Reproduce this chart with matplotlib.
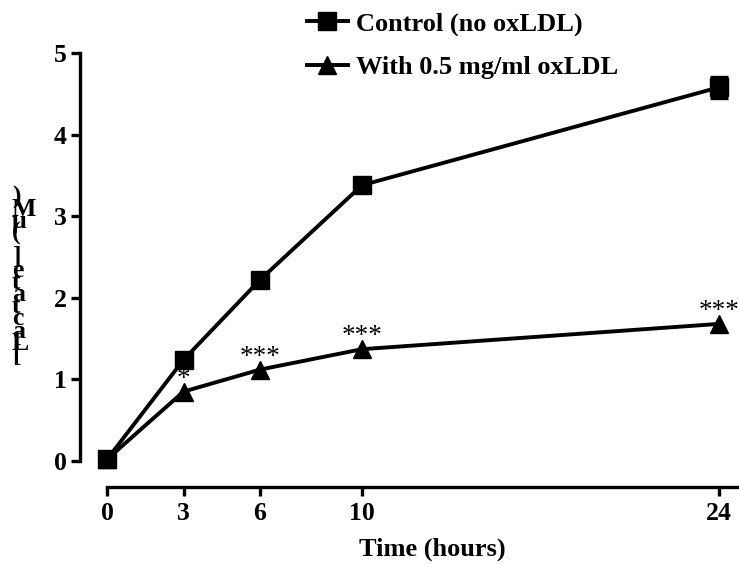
import matplotlib
matplotlib.use('Agg')
import matplotlib.pyplot as plt
import numpy as np

plt.rcParams['font.family'] = ['Liberation Serif', 'DejaVu Serif']
plt.rcParams['font.weight'] = 'bold'

hours = [0, 3, 6, 10, 24]
control = [0.02, 1.24, 2.22, 3.38, 4.58]
control_err = [0, 0, 0, 0, 0.13]
oxldl = [0.02, 0.85, 1.12, 1.37, 1.68]
stars = ['', '*', '***', '***', '***']
ylabel = '[Lactate] (\u03bcM)'

W, H = 739, 564
fig = plt.figure(figsize=(W / 100, H / 100), dpi=100)
# axes box in pixels: left 80, right 739, top 53 (y=5), bottom 487
ax = fig.add_axes([80 / W, 1 - 487 / H, 659 / W, 434 / H])

lw = 2.8
ax.plot(hours, control, color='k', lw=lw, marker='s', markersize=12.5,
        label='Control (no oxLDL)', clip_on=False, zorder=3)
ax.plot(hours, oxldl, color='k', lw=lw, marker='^', markersize=13,
        label='With 0.5 mg/ml oxLDL', clip_on=False, zorder=3)
# error bars only where they are visible
err_x = [h for h, e in zip(hours, control_err) if e > 0]
err_y = [c for c, e in zip(control, control_err) if e > 0]
err_v = [e for e in control_err if e > 0]
ax.errorbar(err_x, err_y, yerr=err_v, fmt='none', ecolor='k',
            elinewidth=2.4, capsize=6.5, capthick=2.4, zorder=2)

for x, y, s in zip(hours, oxldl, stars):
    if s:
        ax.text(x, y + 0.15, s, ha='center', va='center', fontsize=19.5,
                fontweight='normal', zorder=4)

ax.set_xlim(-1.059, 24.78)
ax.set_ylim(-0.319, 5)
ax.set_xticks(hours)
ax.set_yticks([0, 1, 2, 3, 4, 5])
for sp in ['top', 'right']:
    ax.spines[sp].set_visible(False)
ax.spines['left'].set_bounds(0, 5)
ax.spines['bottom'].set_bounds(0, 24.78)
for sp in ['left', 'bottom']:
    ax.spines[sp].set_linewidth(2.4)
ax.tick_params(width=2.4, length=6.5, labelsize=18.5, pad=3)
ax.tick_params(axis='x', pad=4)
ax.set_xlabel('Time (hours)', fontsize=19, fontweight='bold')
ax.xaxis.set_label_coords((432 - 80) / 659, -(549 - 487) / 434)
ax.xaxis.label.set_va('center')

# stacked y-axis label characters
for i, ch in enumerate(ylabel):
    ypx = 362 - i * 12.2
    fig.text(12 / W, 1 - ypx / H, ch, ha='left', va='baseline', fontsize=18.5,
             fontweight='bold')

fig.legend(loc='upper left', bbox_to_anchor=(307 / W, 1 - 12 / H),
           frameon=False, fontsize=19, borderpad=0, borderaxespad=0,
           handlelength=1.55, handletextpad=0.3, labelspacing=0.75,
           numpoints=1)

fig.savefig('out.png', dpi=100)
